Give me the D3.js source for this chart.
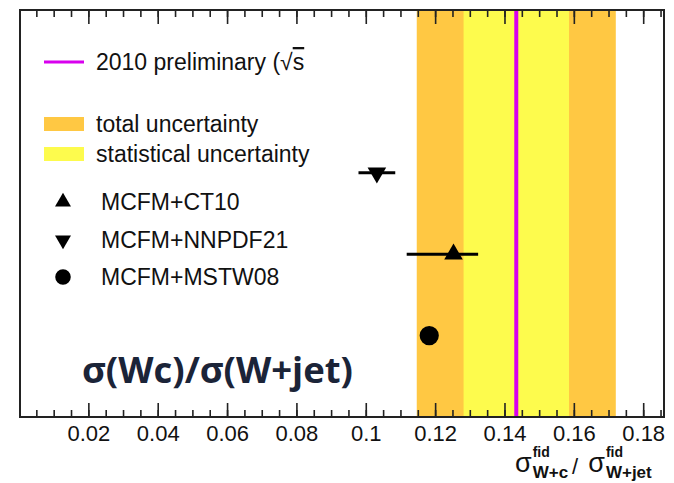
<!DOCTYPE html>
<html>
<head>
<meta charset="utf-8">
<script src="https://cdn.jsdelivr.net/npm/d3@7"></script>
<style>
  body { margin: 0; background: #fff; }
  svg text { font-family: 'Liberation Sans', Arial, sans-serif; fill: #111; }
</style>
</head>
<body>
<div id="chart-container"></div>
<script>
// ratio sigma(W+c)/sigma(W+jet), measured value and the bands
let measured = 0.1434;
let statErr = 0.0152;
let totalErr = 0.0287;

// theory predictions (MCFM with different PDFs)
let models = ['MCFM+CT10', 'MCFM+NNPDF21', 'MCFM+MSTW08'];
let modelValues = [0.1253, 0.1032, 0.1183];
let modelErrLow = [0.0135, 0.0053, 0];
let modelErrHigh = [0.0071, 0.0053, 0];
let modelRows = [2, 3, 1];
let modelSymbols = ['up', 'down', 'circle'];

// axis ticks
let majorTicks = [0.02, 0.04, 0.06, 0.08, 0.10, 0.12, 0.14, 0.16, 0.18];
let minorTicks = d3.range(1, 38).map(function(i) { return i * 0.005; });

let width = 674;
let height = 483;
let frame = {left: 20, right: 664, top: 10, bottom: 417};

let orange = '#ffc843';
let yellow = '#fdfb4d';
let magenta = '#d800ee';

let x = d3.scaleLinear()
    .domain([0, 0.186])
    .range([19, frame.right]);

let y = d3.scaleLinear()
    .domain([0, 5])
    .range([frame.bottom, frame.top]);

let svg = d3.select('#chart-container')
    .append('svg')
    .attr('width', width)
    .attr('height', height);

function symbolPath(kind, size) {
    if (kind === 'circle') {
        return d3.symbol().type(d3.symbolCircle).size(size)();
    }
    return d3.symbol().type(d3.symbolTriangle).size(size)();
}

// uncertainty bands
let bands = [
    {err: totalErr, color: orange},
    {err: statErr, color: yellow}
];
svg.append('g')
    .attr('class', 'bands')
    .selectAll('rect')
    .data(bands)
    .enter()
    .append('rect')
    .attr('x', function(d) { return x(measured - d.err); })
    .attr('width', function(d) { return x(measured + d.err) - x(measured - d.err); })
    .attr('y', y(5))
    .attr('height', y(0) - y(5))
    .attr('fill', function(d) { return d.color; });

svg.append('line')
    .attr('x1', x(measured))
    .attr('x2', x(measured))
    .attr('y1', y(5))
    .attr('y2', y(0))
    .attr('stroke', magenta)
    .attr('stroke-width', 4);

// axes: minor and major ticks, bottom and top, all pointing inwards
function styleAxis(g) {
    g.select('.domain').remove();
    g.selectAll('line').attr('stroke', '#222').attr('stroke-width', 1.6);
}

svg.append('g')
    .attr('transform', 'translate(0,' + frame.bottom + ')')
    .call(d3.axisBottom(x).tickValues(minorTicks).tickSizeInner(-7).tickFormat(''))
    .call(styleAxis);

svg.append('g')
    .attr('class', 'x-labels')
    .attr('transform', 'translate(0,' + frame.bottom + ')')
    .call(d3.axisBottom(x)
        .tickValues(majorTicks)
        .tickSizeInner(-14)
        .tickPadding(8)
        .tickFormat(function(v) { return String(+v.toFixed(2)); }))
    .call(styleAxis)
    .selectAll('text')
    .attr('font-family', "'Liberation Sans', Arial, sans-serif")
    .attr('font-size', 22)
    .attr('fill', '#111');

svg.append('g')
    .attr('transform', 'translate(0,' + frame.top + ')')
    .call(d3.axisTop(x).tickValues(minorTicks).tickSizeInner(-7).tickFormat(''))
    .call(styleAxis);

svg.append('g')
    .attr('transform', 'translate(0,' + frame.top + ')')
    .call(d3.axisTop(x).tickValues(majorTicks).tickSizeInner(-14).tickFormat(''))
    .call(styleAxis);

svg.append('rect')
    .attr('x', frame.left)
    .attr('y', frame.top)
    .attr('width', frame.right - frame.left)
    .attr('height', frame.bottom - frame.top)
    .attr('fill', 'none')
    .attr('stroke', '#222')
    .attr('stroke-width', 2);

// predictions
let points = models.map(function(m, i) {
    return {
        name: m,
        value: modelValues[i],
        lo: modelErrLow[i],
        hi: modelErrHigh[i],
        row: modelRows[i],
        symbol: modelSymbols[i]
    };
});

let pts = svg.append('g')
    .attr('class', 'points')
    .selectAll('g')
    .data(points)
    .enter()
    .append('g');

pts.filter(function(d) { return d.lo + d.hi > 0; })
    .append('line')
    .attr('x1', function(d) { return x(d.value - d.lo); })
    .attr('x2', function(d) { return x(d.value + d.hi); })
    .attr('y1', function(d) { return y(d.row); })
    .attr('y2', function(d) { return y(d.row); })
    .attr('stroke', '#000')
    .attr('stroke-width', 3);

pts.append('path')
    .attr('d', function(d) { return symbolPath(d.symbol, d.symbol === 'circle' ? 290 : 150); })
    .attr('transform', function(d) {
        let r = d.symbol === 'down' ? ' rotate(180)' : '';
        return 'translate(' + x(d.value) + ',' + y(d.row) + ')' + r;
    })
    .attr('fill', '#000');

// legend
let legend = svg.append('g').attr('class', 'legend');

legend.append('line')
    .attr('x1', 44).attr('x2', 84)
    .attr('y1', 62).attr('y2', 62)
    .attr('stroke', magenta)
    .attr('stroke-width', 3);

let prelim = legend.append('text')
    .attr('x', 96)
    .attr('y', 70)
    .attr('font-size', 23);
prelim.append('tspan').text('2010 preliminary (√');
prelim.append('tspan').style('text-decoration', 'overline').text('s');

let bandLegend = [
    {label: 'total uncertainty', color: orange, y: 124},
    {label: 'statistical uncertainty', color: yellow, y: 154}
];
bandLegend.forEach(function(b) {
    legend.append('rect')
        .attr('x', 44).attr('y', b.y - 7)
        .attr('width', 40).attr('height', 14)
        .attr('fill', b.color);
    legend.append('text')
        .attr('x', 96)
        .attr('y', b.y + 8)
        .attr('font-size', 23)
        .text(b.label);
});

let legendRows = [202, 240, 277];
points.forEach(function(d, i) {
    legend.append('path')
        .attr('d', symbolPath(d.symbol, d.symbol === 'circle' ? 190 : 110))
        .attr('transform', 'translate(63,' + legendRows[i] + ')' + (d.symbol === 'down' ? ' rotate(180)' : ''))
        .attr('fill', '#000');
    legend.append('text')
        .attr('x', 101)
        .attr('y', legendRows[i] + 8)
        .attr('font-size', 23)
        .text(d.name);
});

// big label
svg.append('text')
    .attr('x', 82)
    .attr('y', 383)
    .attr('font-size', 36)
    .attr('font-weight', 'bold')
    .attr('textLength', 271)
    .attr('lengthAdjust', 'spacingAndGlyphs')
    .style('font-family', "'Open Sans', sans-serif")
    .style('fill', '#1b2438')
    .text('σ(Wc)/σ(W+jet)');

// axis title: sigma^fid_{W+c} / sigma^fid_{W+jet}
let titleG = svg.append('g').attr('class', 'x-title');

function drawSigma(x0, sub) {
    let s = titleG.append('text')
        .attr('x', x0).attr('y', 472)
        .attr('font-size', 27)
        .text('σ');
    let xs = x0 + s.node().getComputedTextLength() + 1;
    titleG.append('text')
        .attr('x', xs).attr('y', 457)
        .attr('font-size', 14)
        .attr('font-weight', 'bold')
        .text('fid');
    let sb = titleG.append('text')
        .attr('x', xs).attr('y', 478)
        .attr('font-size', 17)
        .attr('font-weight', 'bold')
        .text(sub);
    return xs + sb.node().getComputedTextLength();
}

let xEnd = drawSigma(515, 'W+c');
let slash = titleG.append('text')
    .attr('x', xEnd + 4).attr('y', 474)
    .attr('font-size', 22)
    .text('/');
drawSigma(xEnd + 4 + slash.node().getComputedTextLength() + 10, 'W+jet');
</script>
</body>
</html>
